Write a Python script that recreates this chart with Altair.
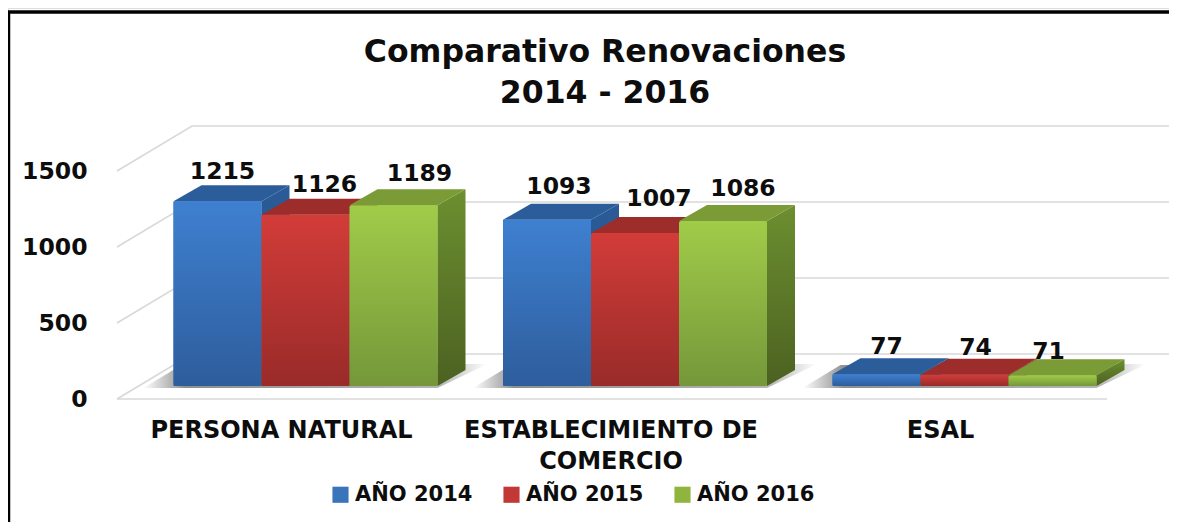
import altair as alt
import pandas as pd

# ---- chart values
CATEGORIES = ["PERSONA NATURAL", "ESTABLECIMIENTO DE\nCOMERCIO", "ESAL"]
SERIES = ["AÑO 2014", "AÑO 2015", "AÑO 2016"]
V2014 = [1215, 1093, 77]
V2015 = [1126, 1007, 74]
V2016 = [1189, 1086, 71]
VALUES = [V2014, V2015, V2016]
TICKS = [0, 500, 1000, 1500]

# ---- styles
FRONT = [("#3e80d0", "#2e5d9c"), ("#d23c39", "#992b29"), ("#a0cc49", "#75973a")]
TOP = ["#2c5d9b", "#9c2d2a", "#7a9b35"]
SIDE = [("#2b5c98", "#244d80"), ("#8c2927", "#6e201e"), ("#6c8f30", "#4c6121")]
LEGEND = ["#3a74bb", "#c13835", "#8fb53f"]
GRID = "#d9d9d9"
INK = "#0d0d0d"
FONT = "DejaVu Sans"

W, H = 1161, 514
X_PER_CAT = 329.5          # px per category
Y_PER_UNIT = 0.152         # px per value unit
CX0, FLOOR_Y = 305.5, 399  # page px of first group centre and front floor line


def dom_x(px):
    return (px - CX0) / X_PER_CAT


def len_x(px):
    return px / X_PER_CAT


def len_y(px):
    return px / Y_PER_UNIT


BAR_W = len_x(88)
DX, DY = len_x(28), len_y(16)       # depth of a bar
BASE = len_y(13)                    # front base of bars above the floor line
WALL_DX, WALL_DY = len_x(75), len_y(45)
WALL_X0 = dom_x(117)
FLOOR_END = dom_x(1107)
RIGHT_END = dom_x(8 + W)
LABEL_SHIFT = [[5, 19, 26], [12, 24, 20], [10, 11, -4]]   # px
LABEL_RISE = [[29, 30, 31], [33, 34, 32], [27, 27, 23]]   # px
CAT_SHIFT = len_x(24.5)

cat_values = [c - CAT_SHIFT for c in range(len(CATEGORIES))]
parts = []
for name in CATEGORIES:
    bits = name.split("\n")
    parts.append("'" + bits[0] + "'" if len(bits) == 1 else "[" + ",".join(f"'{b}'" for b in bits) + "]")
label_expr = "[" + ",".join(parts) + f"][round(datum.value + {CAT_SHIFT})]"

x_scale = alt.Scale(domain=[dom_x(8), dom_x(8 + W)], nice=False, zero=False)
y_scale = alt.Scale(domain=[(FLOOR_Y - 8 - H) / Y_PER_UNIT, (FLOOR_Y - 8) / Y_PER_UNIT], nice=False, zero=False)
x_axis = alt.Axis(
    values=cat_values, labelExpr=label_expr, title=None, domain=False, ticks=False, grid=False,
    orient="bottom", offset=-(8 + H - 418), labelFont=FONT, labelFontWeight="bold", labelFontSize=24,
    labelColor=INK, labelPadding=0, labelBound=False, labelFlush=False, labelOverlap=False, labelLimit=0,
    labelLineHeight=31, labelAlign="center")
y_axis = alt.Axis(
    values=TICKS, format="d", title=None, domain=False, ticks=False, grid=False, orient="left",
    offset=-79, labelFont=FONT, labelFontWeight="bold", labelFontSize=23.5,
    labelColor=INK, labelPadding=0, labelBound=False, labelFlush=False, labelOverlap=False)
X = alt.X("x:Q", scale=x_scale, axis=x_axis)
Y = alt.Y("y:Q", scale=y_scale, axis=y_axis, stack=None)


def grad(c0, c1):
    return alt.Gradient(gradient="linear", x1=0, x2=0, y1=0, y2=1,
                        stops=[alt.GradientStop(color=c0, offset=0), alt.GradientStop(color=c1, offset=1)])


shadow_fill = alt.Gradient(gradient="linear", x1=0, x2=1, y1=0, y2=0,
                           stops=[alt.GradientStop(color="#ffffff", offset=0),
                                  alt.GradientStop(color="#8f8f8f", offset=0.12),
                                  alt.GradientStop(color="#b5b5b5", offset=0.86),
                                  alt.GradientStop(color="#ffffff", offset=1)])

# ---- tables
front, top, side, labels, shadow = [], [], [], [], []
for c in range(len(CATEGORIES)):
    left = c - 1.5 * BAR_W
    right = c + 1.5 * BAR_W
    low, high = BASE - len_y(2), BASE + len_y(22)
    for xv, y_, y2_ in [(left - len_x(30), low, low), (left + len_x(8), high - len_y(1), low),
                        (right, high, low), (right + len_x(50), high, high)]:
        shadow.append(dict(g=c, x=xv, y=y_, y2=y2_))
    for s, name in enumerate(SERIES):
        v = VALUES[s][c]
        x0 = c + (s - 1.5) * BAR_W
        x1 = x0 + BAR_W
        t = BASE + v
        bid = f"{c}-{s}"
        front.append(dict(series=name, s=s, x=x0, x2=x1, y=BASE, y2=t))
        for xv, y_, y2_ in [(x1, t, BASE), (x1 + DX, t + DY, BASE + DY)]:
            side.append(dict(bid=bid, s=s, x=xv, y=y_, y2=y2_))
        for xv, y_, y2_ in [(x0, t, t), (x0 + DX, t + DY, t), (x1, t + DY, t), (x1 + DX, t + DY, t + DY)]:
            top.append(dict(bid=bid, s=s, x=xv, y=y_, y2=y2_))
        labels.append(dict(x=(x0 + x1) / 2 + len_x(LABEL_SHIFT[c][s]),
                           y=BASE + v + len_y(LABEL_RISE[c][s]), text=str(v)))

grid = []
for i, tv in enumerate(TICKS):
    if tv > 0:
        grid.append(dict(line=f"w{i}", x=WALL_X0, y=tv))
    grid.append(dict(line=f"w{i}", x=WALL_X0 + WALL_DX, y=tv + WALL_DY))
    grid.append(dict(line=f"w{i}", x=RIGHT_END, y=tv + WALL_DY))
grid += [dict(line="floor", x=WALL_X0, y=0), dict(line="floor", x=FLOOR_END, y=0),
         dict(line="edge", x=WALL_X0, y=0), dict(line="edge", x=WALL_X0 + WALL_DX, y=WALL_DY)]

front_df, top_df, side_df = pd.DataFrame(front), pd.DataFrame(top), pd.DataFrame(side)

# ---- layers
layers = []

layers.append(alt.Chart(pd.DataFrame(grid)).mark_line(color=GRID, strokeWidth=1.6).encode(
    x=X, y=Y, detail="line:N"))

layers.append(alt.Chart(pd.DataFrame(shadow)).mark_area(color=shadow_fill).encode(
    x=X, y=Y, y2="y2:Q", detail="g:N"))

# flat faces carry the legend; gradients are painted over them
layers.append(alt.Chart(front_df).mark_rect().encode(
    x=X, x2="x2:Q", y=Y, y2="y2:Q",
    color=alt.Color("series:N", sort=SERIES,
                    scale=alt.Scale(domain=SERIES, range=LEGEND),
                    legend=alt.Legend(orient="none", legendX=322, legendY=476, direction="horizontal",
                                      title=None, symbolType="square", symbolSize=260, symbolStrokeWidth=0,
                                      labelFont=FONT, labelFontWeight="bold", labelFontSize=21,
                                      labelColor=INK, columnPadding=28, labelOffset=4)),
))

for s in range(len(SERIES)):
    layers.append(alt.Chart(side_df[side_df.s == s]).mark_area(color=grad(*SIDE[s])).encode(
        x=X, y=Y, y2="y2:Q", detail="bid:N"))
    layers.append(alt.Chart(top_df[top_df.s == s]).mark_area(color=TOP[s]).encode(
        x=X, y=Y, y2="y2:Q", detail="bid:N"))
    layers.append(alt.Chart(front_df[front_df.s == s]).mark_rect(color=grad(*FRONT[s]), cornerRadius=2).encode(
        x=X, x2="x2:Q", y=Y, y2="y2:Q"))

layers.append(alt.Chart(pd.DataFrame(labels)).mark_text(
    font=FONT, fontWeight="bold", fontSize=23.5, color=INK, baseline="middle", align="center"
).encode(x=X, y=Y, text="text:N"))

# frame of the picture: left and top edges only
layers.append(alt.Chart(pd.DataFrame({"k": [0]})).mark_rule(color="#000000", strokeWidth=2.5).encode(
    x=alt.value(1), y=alt.value(4), y2=alt.value(H)))
layers.append(alt.Chart(pd.DataFrame({"k": [0]})).mark_rule(color="#000000", strokeWidth=3.5).encode(
    x=alt.value(0), x2=alt.value(W), y=alt.value(4)))

chart = alt.layer(*layers).properties(
    width=W, height=H, padding=0, autosize=alt.AutoSizeParams(type="none"),
    title=alt.TitleParams(text=["Comparativo Renovaciones", "2014 - 2016"], font=FONT, fontWeight="bold",
                          fontSize=31.5, color=INK, anchor="middle", dx=16.5, offset=-101, lineHeight=40.5,
                          baseline="top"),
).configure_view(stroke=None).configure(background="#ffffff")

chart.save("out.html", embed_options={"renderer": "svg", "actions": False})
